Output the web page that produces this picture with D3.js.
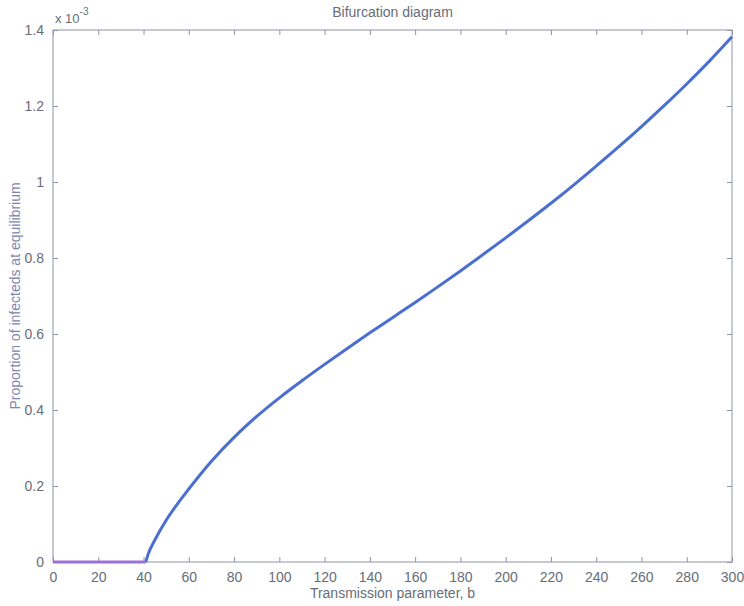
<!DOCTYPE html>
<html lang="en">
<head>
    <meta charset="UTF-8">
    <title>Bifurcation diagram</title>
    <style>
        * { margin: 0; padding: 0; }
        body { background: #fff; }
        text { font-family: "Liberation Sans", Arial, sans-serif; }
    </style>
</head>
<body>
    <div id="chart"></div>
    <script src="https://cdn.jsdelivr.net/npm/d3@7"></script>
    <script>
        // transmission parameter b and equilibrium proportion (x 10^-3)
        const bValues = [0, 10, 20, 30, 41, 42, 45, 50, 55, 60, 70, 80, 90, 100, 110, 120, 130, 140, 150,
            160, 170, 180, 190, 200, 210, 220, 230, 240, 250, 260, 270, 280, 290, 300]
        const infected = [0, 0, 0, 0, 0, 0.02, 0.058, 0.11, 0.153, 0.192, 0.265, 0.328, 0.383, 0.432,
            0.477, 0.52, 0.562, 0.603, 0.643, 0.683, 0.724, 0.766, 0.809, 0.853, 0.898, 0.944, 0.992,
            1.042, 1.093, 1.146, 1.201, 1.258, 1.318, 1.382]
        const xTicks = d3.range(0, 301, 20)
        const yTicks = [0, 0.2, 0.4, 0.6, 0.8, 1, 1.2, 1.4]

        const width = 744
        const height = 606
        const margin = { top: 30, right: 12, bottom: 44, left: 53 }
        const innerW = width - margin.left - margin.right
        const innerH = height - margin.top - margin.bottom

        const axisColor = '#8d94a3'
        const textColor = '#676d78'

        const svg = d3.select('#chart')
            .append('svg')
            .attr('width', width)
            .attr('height', height)

        const bounds = svg.append('g')
            .attr('transform', `translate(${margin.left}, ${margin.top})`)

        const x = d3.scaleLinear().domain([0, 300]).range([0, innerW])
        const y = d3.scaleLinear().domain([0, 1.4]).range([innerH, 0])

        // frame
        bounds.append('rect')
            .attr('width', innerW)
            .attr('height', innerH)
            .attr('fill', 'none')
            .attr('stroke', axisColor)
            .attr('stroke-width', 1)

        // inward ticks on all four sides
        const tickLen = 5
        const styleAxis = g => {
            g.select('.domain').remove()
            g.selectAll('.tick line').attr('stroke', axisColor)
            g.selectAll('.tick text')
                .attr('fill', textColor)
                .style('font-size', '14px')
                .style('font-family', '"Liberation Sans", Arial, sans-serif')
        }

        bounds.append('g')
            .attr('transform', `translate(0, ${innerH})`)
            .call(d3.axisBottom(x).tickValues(xTicks).tickSizeInner(-tickLen).tickSizeOuter(0).tickPadding(10).tickFormat(d3.format('d')))
            .call(styleAxis)

        bounds.append('g')
            .call(d3.axisTop(x).tickValues(xTicks).tickSizeInner(-tickLen).tickSizeOuter(0).tickFormat(''))
            .call(styleAxis)

        bounds.append('g')
            .call(d3.axisLeft(y).tickValues(yTicks).tickSizeInner(-tickLen).tickSizeOuter(0).tickPadding(9).tickFormat(d => d === 0 ? '0' : d3.format('~g')(d)))
            .call(styleAxis)

        bounds.append('g')
            .attr('transform', `translate(${innerW}, 0)`)
            .call(d3.axisRight(y).tickValues(yTicks).tickSizeInner(-tickLen).tickSizeOuter(0).tickFormat(''))
            .call(styleAxis)

        // curve
        const data = bValues.map((b, i) => ({ b, v: infected[i] }))
        const line = d3.line()
            .x(d => x(d.b))
            .y(d => y(d.v))
            .curve(d3.curveMonotoneX)

        bounds.append('path')
            .datum(data.filter(d => d.b >= 41))
            .attr('d', line)
            .attr('fill', 'none')
            .attr('stroke', '#4a6fd0')
            .attr('stroke-width', 3)
            .attr('stroke-linejoin', 'round')

        bounds.append('path')
            .datum(data.filter(d => d.b <= 41))
            .attr('d', line)
            .attr('fill', 'none')
            .attr('stroke', '#9a72d6')
            .attr('stroke-width', 3)

        // title
        svg.append('text')
            .attr('x', margin.left + innerW / 2)
            .attr('y', 17)
            .attr('text-anchor', 'middle')
            .attr('fill', textColor)
            .style('font-size', '14px')
            .text('Bifurcation diagram')

        // exponent label
        const expo = svg.append('text')
            .attr('x', 55)
            .attr('y', 23)
            .attr('fill', textColor)
            .style('font-size', '13px')
        expo.append('tspan').text('x 10')
        expo.append('tspan')
            .attr('dy', -8)
            .style('font-size', '10px')
            .text('-3')

        // axis labels
        svg.append('text')
            .attr('x', margin.left + innerW / 2)
            .attr('y', 598)
            .attr('text-anchor', 'middle')
            .attr('fill', textColor)
            .style('font-size', '14px')
            .text('Transmission parameter, b')

        svg.append('text')
            .attr('transform', `translate(20, ${margin.top + innerH / 2}) rotate(-90)`)
            .attr('text-anchor', 'middle')
            .attr('fill', '#7e86ad')
            .style('font-size', '14px')
            .text('Proportion of infecteds at equilibrium')
    </script>
</body>
</html>
